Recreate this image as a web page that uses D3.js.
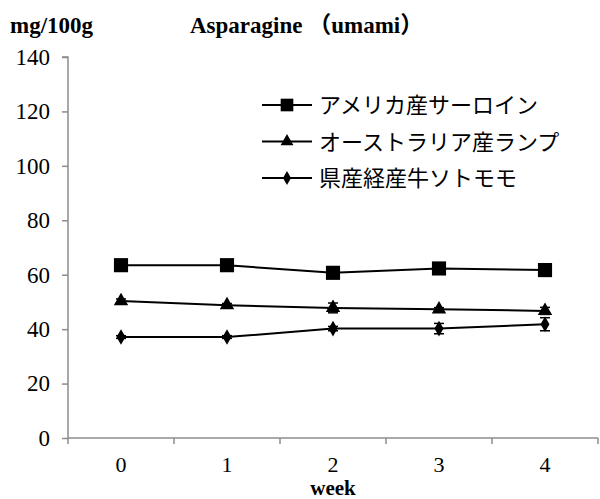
<!DOCTYPE html>
<html>
<head>
<script src="https://d3js.org/d3.v7.min.js"></script>
<style>
  body{margin:0;background:#fff;}
  svg text{font-family:"Liberation Serif","DejaVu Serif",serif;}
  svg text.jp{font-family:"Liberation Serif","Noto Sans CJK JP",serif;}
</style>
</head>
<body>
<svg id="chart" width="600" height="499"></svg>
<script>
const weeks=["0","1","2","3","4"];
const seriesNames=["アメリカ産サーロイン","オーストラリア産ランプ","県産経産牛ソトモモ"];
const sirloin=[63.5,63.5,60.7,62.3,61.7];
const sirloinErr=[0.6,0.6,1.5,0.6,1.0];
const rump=[50.3,48.8,47.8,47.3,46.7];
const rumpErr=[0.8,0.6,1.8,0.6,1.3];
const sotomomo=[37.1,37.1,40.2,40.2,41.8];
const sotomomoErr=[0.5,0.5,0.8,1.9,2.4];
const yTicks=[0,20,40,60,80,100,120,140];

const svg=d3.select("#chart");
const margin={left:68,right:2,top:57,bottom:61};
const W=+svg.attr("width"), H=+svg.attr("height");

let x=d3.scaleBand().domain(weeks).range([margin.left,W-margin.right]);
let y=d3.scaleLinear().domain([0,140]).range([H-margin.bottom,margin.top]);

// axes
let yAxis=svg.append("g").attr("transform",`translate(${margin.left},0)`)
  .call(d3.axisLeft(y).tickValues(yTicks).tickSize(6).tickPadding(12));
yAxis.attr("font-family",null).attr("font-size",23);
yAxis.selectAll("text").attr("fill","#000");
yAxis.selectAll("line,path").attr("stroke","#8c8c8c").attr("stroke-width",1.5);
yAxis.select(".domain").attr("d",`M-6,${y(140)}H0V${y(0)}`);

let xAxis=svg.append("g").attr("transform",`translate(0,${y(0)})`)
  .call(d3.axisBottom(x).tickSize(0).tickPadding(18));
xAxis.attr("font-family",null).attr("font-size",22);
xAxis.selectAll("text").attr("fill","#000");
xAxis.selectAll("path").attr("stroke","#8c8c8c").attr("stroke-width",1.5);
xAxis.select(".domain").attr("d",`M${margin.left},0H${W-margin.right}`);
xAxis.selectAll(".bnd").data(weeks.concat(["end"])).join("line")
  .attr("x1",(d,i)=>margin.left+i*x.step()).attr("x2",(d,i)=>margin.left+i*x.step())
  .attr("y1",0).attr("y2",6).attr("stroke","#8c8c8c").attr("stroke-width",1.5);

// titles
svg.append("text").attr("x",10).attr("y",33)
  .style("font-size","23px").style("font-weight","bold").text("mg/100g");
svg.append("text").attr("class","jp").attr("x",190).attr("y",33)
  .style("font-size","23px").style("font-weight","bold").text("Asparagine （umami）");
svg.append("text").attr("x",x("2")+x.bandwidth()/2).attr("y",495).attr("text-anchor","middle")
  .style("font-size","21px").style("font-weight","bold").text("week");

const series=[
  {name:seriesNames[0],vals:sirloin,err:sirloinErr,sym:d3.symbolSquare,size:200},
  {name:seriesNames[1],vals:rump,err:rumpErr,sym:d3.symbolTriangle,size:90},
  {name:seriesNames[2],vals:sotomomo,err:sotomomoErr,sym:d3.symbolDiamond,size:70}
];
const cx=w=>x(w)+x.bandwidth()/2;
let line=d3.line().x((d,i)=>cx(weeks[i])).y(d=>y(d));

series.forEach(s=>{
  let g=svg.append("g");
  g.append("path").datum(s.vals).attr("d",line).attr("fill","none").attr("stroke","#000").attr("stroke-width",2);
  g.selectAll("g.eb").data(s.vals).join("g").attr("class","eb").each(function(d,i){
    let e=d3.select(this), px=cx(weeks[i]);
    let t=y(d+s.err[i]), b=y(d-s.err[i]);
    e.append("line").attr("x1",px).attr("x2",px).attr("y1",t).attr("y2",b).attr("stroke","#000").attr("stroke-width",1.5);
    e.append("line").attr("x1",px-5).attr("x2",px+5).attr("y1",t).attr("y2",t).attr("stroke","#000").attr("stroke-width",1.5);
    e.append("line").attr("x1",px-5).attr("x2",px+5).attr("y1",b).attr("y2",b).attr("stroke","#000").attr("stroke-width",1.5);
  });
  g.selectAll("path.m").data(s.vals).join("path").attr("class","m")
    .attr("d",d3.symbol().type(s.sym).size(s.size))
    .attr("transform",(d,i)=>`translate(${cx(weeks[i])},${y(d)})`).attr("fill","#000");
});

// legend
let legend=svg.append("g").attr("transform","translate(262,105)");
series.forEach((s,i)=>{
  let r=legend.append("g").attr("transform",`translate(0,${i*36.5})`);
  r.append("line").attr("x1",0).attr("x2",50).attr("stroke","#000").attr("stroke-width",2);
  r.append("path").attr("d",d3.symbol().type(s.sym).size(s.size*0.8)).attr("transform","translate(25,0)");
  r.append("text").attr("class","jp").attr("x",57).attr("y",8).style("font-size","22px").text(s.name);
});
</script>
</body>
</html>
